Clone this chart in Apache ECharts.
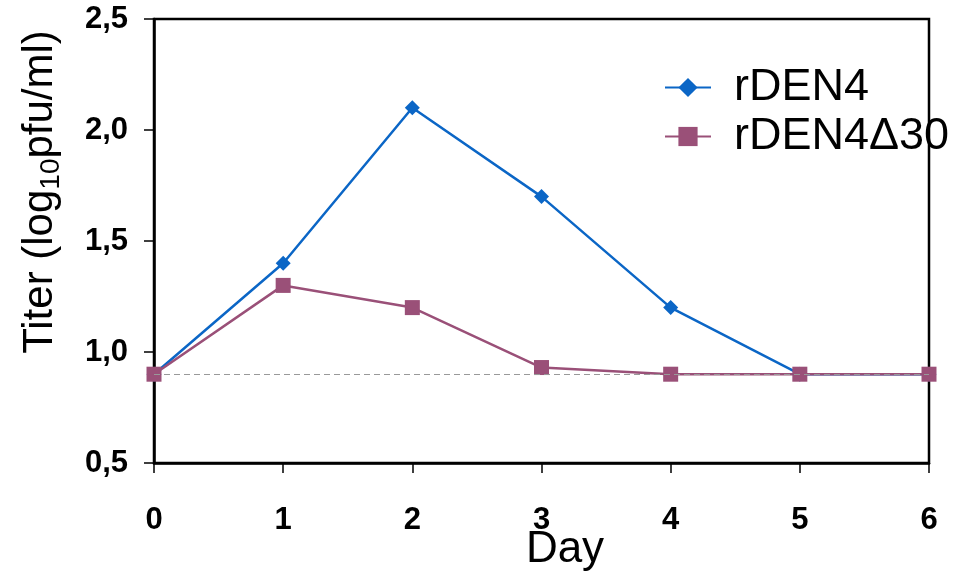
<!DOCTYPE html>
<html>
<head>
<meta charset="utf-8">
<script src="https://cdn.jsdelivr.net/npm/echarts@6/dist/echarts.min.js"></script>
<style>
  html, body { margin: 0; padding: 0; background: #fff; }
  #main { width: 963px; height: 576px; }
</style>
</head>
<body>
<div id="main"></div>
<script>
// data
const days = [0, 1, 2, 3, 4, 5, 6];
const rden4 = [0.9, 1.4, 2.1, 1.7, 1.2, 0.9, 0.9];
const rden4d30 = [0.9, 1.3, 1.2, 0.93, 0.9, 0.9, 0.9];
const detectionLimit = 0.9;
const yTicks = [0.5, 1.0, 1.5, 2.0, 2.5];

const FONT = 'Liberation Sans, Arial, sans-serif';
const BLUE = '#0b66c6';
const PURPLE = '#9a5078';

const pairs = (ys) => days.map((d, i) => [d, ys[i]]);

let chart = echarts.init(document.getElementById('main'));
let option = {
  animation: false,
  backgroundColor: '#fff',
  grid: {
    left: 154, right: 34, top: 19, bottom: 113,
    show: true, borderColor: '#000', borderWidth: 2.5
  },
  legend: {
    orient: 'vertical',
    left: 659, top: 60,
    itemWidth: 46, itemHeight: 24, itemGap: 4,
    textStyle: { fontFamily: FONT, fontSize: 45, color: '#000', padding: [0, 0, 0, 18] },
    data: ['rDEN4', 'rDEN4\u039430']
  },
  xAxis: {
    type: 'value', min: 0, max: 6, interval: 1,
    axisLine: { lineStyle: { color: '#000', width: 2.5 } },
    axisTick: { length: 10, lineStyle: { color: '#000', width: 1.5 } },
    splitLine: { show: false },
    axisLabel: { margin: 42, fontFamily: FONT, fontSize: 31, fontWeight: 'bold', color: '#000' }
  },
  yAxis: {
    type: 'value', min: yTicks[0], max: yTicks[yTicks.length - 1], interval: 0.5,
    axisLine: { show: true, lineStyle: { color: '#000', width: 2.5 } },
    axisTick: { show: true, length: 10, lineStyle: { color: '#000', width: 1.5 } },
    splitLine: { show: false },
    axisLabel: {
      margin: 26, fontFamily: FONT, fontSize: 31, fontWeight: 'bold', color: '#000',
      formatter: v => v.toFixed(1).replace('.', ',')
    }
  },
  graphic: [
    {
      type: 'text', x: 40, y: 192, rotation: Math.PI / 2,
      style: {
        text: '{t|Titer (log}{sub|10}{t|pfu/ml)}',
        fontFamily: FONT, fontSize: 42, fill: '#000',
        align: 'center', verticalAlign: 'middle',
        rich: {
          t: { fontFamily: FONT, fontSize: 42, fill: '#000', lineHeight: 50, verticalAlign: 'middle' },
          sub: { fontFamily: FONT, fontSize: 28, fill: '#000', lineHeight: 50, verticalAlign: 'bottom', padding: [0, 0, 0, 0] }
        }
      }
    },
    {
      type: 'text', x: 565, y: 550,
      style: {
        text: 'Day', fontFamily: FONT, fontSize: 44, fill: '#000',
        align: 'center', verticalAlign: 'middle'
      }
    }
  ],
  series: [
    {
      name: 'rDEN4', type: 'line', data: pairs(rden4),
      symbol: 'diamond', symbolSize: 15,
      itemStyle: { color: BLUE },
      lineStyle: { color: BLUE, width: 2.5 },
      markLine: {
        silent: true, symbol: 'none', label: { show: false },
        lineStyle: { color: '#999', type: [6, 4], width: 1.2 },
        data: [{ yAxis: detectionLimit }]
      }
    },
    {
      name: 'rDEN4\u039430', type: 'line', data: pairs(rden4d30),
      symbol: 'rect', symbolSize: 15,
      itemStyle: { color: PURPLE },
      lineStyle: { color: PURPLE, width: 2.5 }
    }
  ]
};
chart.setOption(option);
</script>
</body>
</html>
